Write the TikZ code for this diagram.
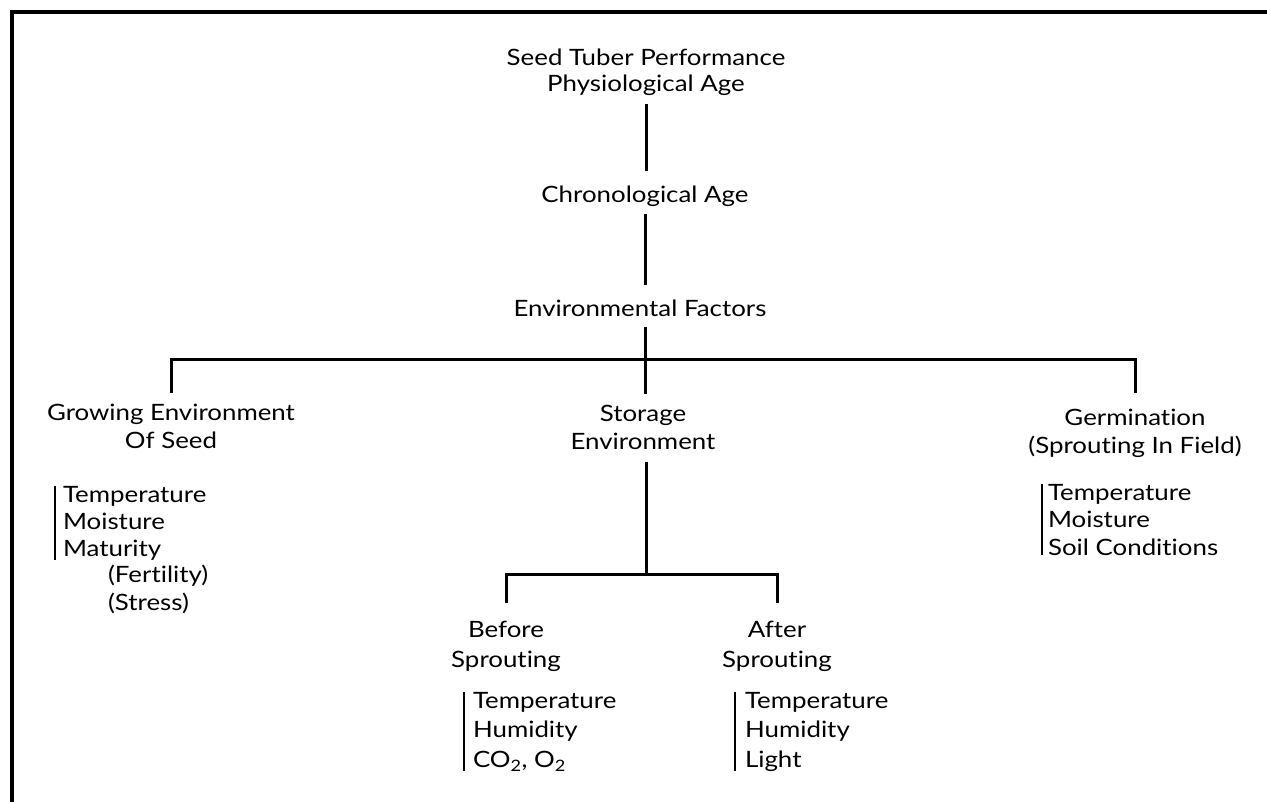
\documentclass[tikz,border=0pt]{standalone}
\usepackage{fontspec}
\setmainfont{Lato}[FakeStretch=1.15, Ligatures=NoCommon]
\begin{document}
\begin{tikzpicture}[x=1pt,y=-1pt,
  lbl/.style={inner sep=0pt, outer sep=0pt, anchor=base, align=center, font=\fontsize{22.5}{28}\selectfont},
  lst/.style={inner sep=0pt, outer sep=0pt, anchor=base west, align=left, font=\fontsize{22.5}{27}\selectfont},
  conn/.style={line width=3pt},
  bar/.style={line width=2.2pt},
  frame/.style={line width=3.5pt}]
\useasboundingbox (0,0) rectangle (1267,802);
\draw[frame] (1267,12) -- (12,12) -- (12,802);

\node[lbl, font=\fontsize{22.5}{26}\selectfont] (title) at (646,92) {Seed Tuber Performance\\Physiological Age};
\node[lbl] (chrono) at (645,203) {Chronological Age};
\node[lbl] (env) at (640,317) {Environmental Factors};
\node[lbl] (grow) at (171,448) {Growing Environment\\Of Seed};
\node[lbl] (stor) at (643,449) {Storage\\Environment};
\node[lbl] (germ) at (1135,453) {Germination\\(Sprouting In Field)};
\node[lbl, font=\fontsize{22.5}{30}\selectfont] (before) at (506,667) {Before\\Sprouting};
\node[lbl, font=\fontsize{22.5}{30}\selectfont] (after) at (777,667) {After\\Sprouting};

\node[lst] (growlist) at (63,556) {Temperature\\Moisture\\Maturity};
\node[lst, font=\fontsize{22.5}{28}\selectfont] (growsub) at (108,610) {(Fertility)\\(Stress)};
\node[lst, font=\fontsize{22.5}{27.5}\selectfont] (germlist) at (1048,555) {Temperature\\Moisture\\Soil Conditions};
\node[lst, font=\fontsize{22.5}{29.5}\selectfont] (beflist) at (473,767) {Temperature\\Humidity\\CO\textsubscript{2}, O\textsubscript{2}};
\node[lst, font=\fontsize{22.5}{29.5}\selectfont] (aftlist) at (745,767) {Temperature\\Humidity\\Light};

\coordinate (bus) at (645,360);
\coordinate (bus2) at (646,574);

\draw[conn, shorten <=8pt, shorten >=15pt] (title.south) -- (title.south |- chrono.north);
\draw[conn, shorten <=7pt, shorten >=15pt] (chrono.south) -- (chrono.south |- env.north);
\draw[conn, shorten <=10pt] (env.south -| bus) -- (bus);
\draw[conn] ([yshift=11pt]grow.north) |- (bus) -| ([yshift=16pt]germ.north);
\draw[conn, shorten >=11pt] (bus) -- (bus |- stor.north);
\draw[conn, shorten <=13pt] (stor.south -| bus2) -- (bus2);
\draw[conn] ([yshift=18pt]before.north) |- (bus2) -| ([yshift=18pt]after.north);

\draw[bar] ([xshift=-8pt]growlist.north west) -- ([xshift=-8pt]growlist.south west);
\draw[bar] ([xshift=-6pt]germlist.north west) -- ([xshift=-6pt]germlist.south west);
\draw[bar] ([xshift=-9pt]beflist.north west) -- ([xshift=-9pt]beflist.south west);
\draw[bar] ([xshift=-10pt]aftlist.north west) -- ([xshift=-10pt]aftlist.south west);
\end{tikzpicture}
\end{document}
